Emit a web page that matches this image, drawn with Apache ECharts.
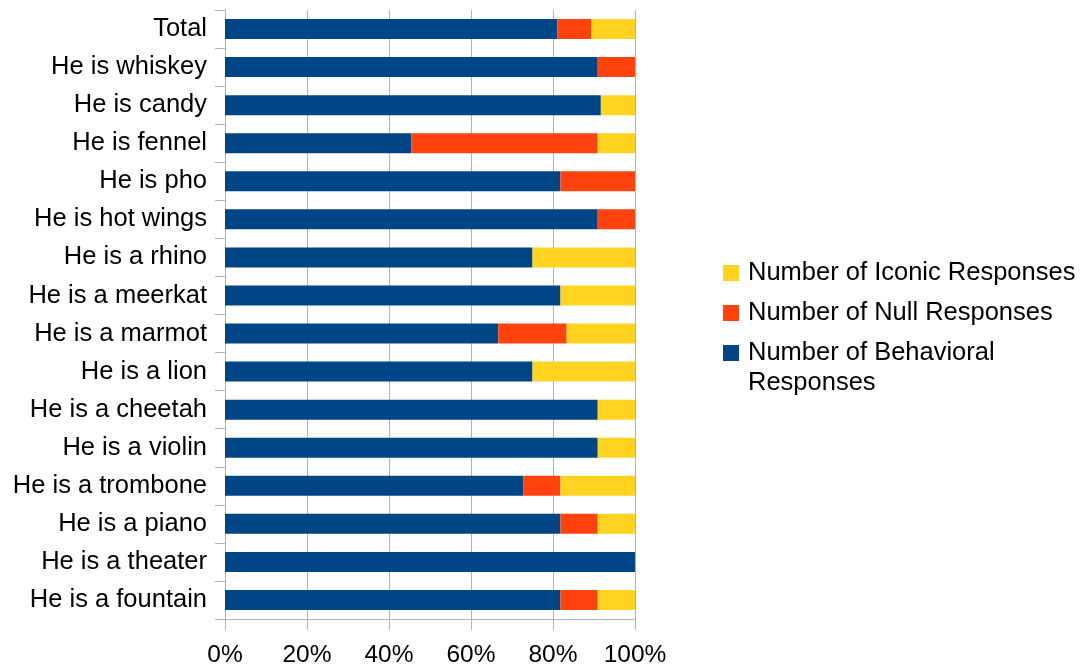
<!DOCTYPE html>
<html>
<head>
<meta charset="utf-8">
<style>
  html, body { margin: 0; padding: 0; background: #ffffff; }
  #chart { width: 1082px; height: 671px; }
</style>
<script src="https://cdn.jsdelivr.net/npm/echarts@6/dist/echarts.min.js"></script>
</head>
<body>
<div id="chart"></div>
<script>
// Prompts, listed bottom to top as they appear on the vertical axis
const categories = [
  'He is a fountain', 'He is a theater', 'He is a piano', 'He is a trombone',
  'He is a violin', 'He is a cheetah', 'He is a lion', 'He is a marmot',
  'He is a meerkat', 'He is a rhino', 'He is hot wings', 'He is pho',
  'He is fennel', 'He is candy', 'He is whiskey', 'Total'
];

// Response counts per prompt
const behavioral = [9, 11, 9, 8, 10, 10, 9, 8, 9, 9, 10, 9, 5, 11, 10, 137];
const nullResp   = [1, 0, 1, 1, 0, 0, 0, 2, 0, 0, 1, 2, 5, 0, 1, 14];
const iconic     = [1, 0, 1, 2, 1, 1, 3, 2, 2, 3, 0, 0, 1, 1, 0, 18];

const xTicks = [0, 20, 40, 60, 80, 100];

const NAME_B = 'Number of Behavioral Responses';
const NAME_N = 'Number of Null Responses';
const NAME_I = 'Number of Iconic Responses';

const COLORS = { b: '#004586', n: '#ff420e', i: '#ffd320' };

// Each row is shown as a share of that prompt's total responses
const totals = categories.map((_, k) => behavioral[k] + nullResp[k] + iconic[k]);
const share = arr => arr.map((v, k) => v / totals[k] * 100);

const FONT = '"Liberation Sans", Arial, sans-serif';
const GRID_GREY = '#b3b3b3';

const chart = echarts.init(document.getElementById('chart'), null, { renderer: 'canvas' });

const legendRich = {
  bx: { width: 16, height: 16, backgroundColor: COLORS.b },
  nx: { width: 16, height: 16, backgroundColor: COLORS.n },
  ix: { width: 16, height: 16, backgroundColor: COLORS.i },
  g:  { width: 9 },
  p:  { width: 25 },
  t:  { fontSize: 25.5, fontFamily: FONT, color: '#000000', lineHeight: 30 }
};

chart.setOption({
  animation: false,
  backgroundColor: '#ffffff',
  grid: { left: 225, right: 447, top: 10, bottom: 52, containLabel: false },
  legend: {
    orient: 'vertical',
    left: 713,
    top: 253,
    icon: 'none',
    itemWidth: 0,
    itemHeight: 16,
    itemGap: 10,
    selectedMode: false,
    data: [NAME_I, NAME_N, NAME_B],
    textStyle: { fontSize: 25.5, fontFamily: FONT, color: '#000000', lineHeight: 30, rich: legendRich },
    formatter: function (name) {
      if (name === NAME_I) return '{ix|}{g|}{t|Number of Iconic Responses}';
      if (name === NAME_N) return '{nx|}{g|}{t|Number of Null Responses}';
      return '{bx|}{g|}{t|Number of Behavioral}\n{p|}{t|Responses}';
    }
  },
  xAxis: {
    type: 'value',
    min: xTicks[0],
    max: xTicks[xTicks.length - 1],
    interval: xTicks[1] - xTicks[0],
    axisLine: { show: true, lineStyle: { color: GRID_GREY, width: 1 } },
    axisTick: { show: true, length: 11, lineStyle: { color: GRID_GREY } },
    splitLine: { show: true, lineStyle: { color: GRID_GREY, width: 1 } },
    axisLabel: {
      formatter: '{value}%',
      fontSize: 24.5,
      fontFamily: FONT,
      color: '#000000',
      margin: 24
    }
  },
  yAxis: {
    type: 'category',
    data: categories,
    axisLine: { show: true, lineStyle: { color: GRID_GREY, width: 1 } },
    axisTick: { show: true, length: 10, inside: false, lineStyle: { color: GRID_GREY } },
    splitLine: { show: false },
    axisLabel: {
      fontSize: 25.5,
      fontFamily: FONT,
      color: '#000000',
      margin: 18
    }
  },
  series: [
    { name: NAME_B, type: 'bar', stack: 'resp', barWidth: 20, itemStyle: { color: COLORS.b }, data: share(behavioral) },
    { name: NAME_N, type: 'bar', stack: 'resp', barWidth: 20, itemStyle: { color: COLORS.n }, data: share(nullResp) },
    { name: NAME_I, type: 'bar', stack: 'resp', barWidth: 20, itemStyle: { color: COLORS.i }, data: share(iconic) }
  ]
});
</script>
</body>
</html>
